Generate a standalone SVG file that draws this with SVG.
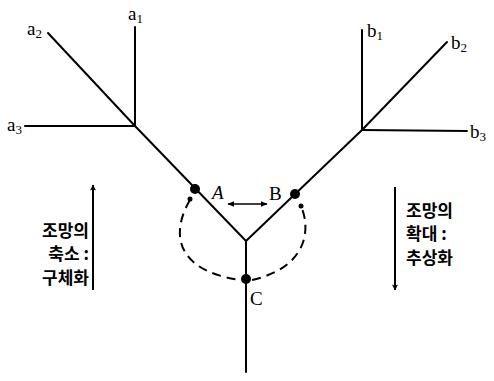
<svg xmlns="http://www.w3.org/2000/svg" width="494" height="381" viewBox="0 0 494 381">
<defs>
<marker id="ah" viewBox="0 0 10 10" refX="9" refY="5" markerWidth="7" markerHeight="7" markerUnits="userSpaceOnUse" orient="auto-start-reverse">
<path d="M0,1 L10,5 L0,9 z" fill="#000"/>
</marker>
<marker id="ahl" viewBox="0 0 10 10" refX="9" refY="5" markerWidth="14" markerHeight="6" markerUnits="userSpaceOnUse" orient="auto-start-reverse">
<path d="M0,0 L10,5 L0,10 L2,5 z" fill="#000"/>
</marker>
</defs>
<style>
.ln{stroke:#000;stroke-width:2;fill:none;stroke-linecap:round}
.ds{stroke:#000;stroke-width:2;fill:none;stroke-dasharray:9 6}
.lb{font-family:"Liberation Serif",serif;font-size:19px;fill:#000}
.sb{font-family:"Liberation Serif",serif;font-size:13px;fill:#000}
.kr{font-family:"Noto Sans CJK KR","Noto Sans",sans-serif;font-size:17px;font-weight:600;fill:#000}
</style>
<rect width="494" height="381" fill="#fff"/>
<g id="connectors">
<line class="ln" x1="135" y1="27" x2="135" y2="126"/>
<line class="ln" x1="48" y1="33" x2="135" y2="126"/>
<line class="ln" x1="25" y1="126" x2="135" y2="126"/>
<line class="ln" x1="135" y1="126" x2="246" y2="241"/>
<line class="ln" x1="362" y1="30" x2="362" y2="130"/>
<line class="ln" x1="447" y1="42" x2="362" y2="130"/>
<line class="ln" x1="467" y1="131" x2="362" y2="130"/>
<line class="ln" x1="362" y1="130" x2="246" y2="241"/>
<line class="ln" x1="246" y1="241" x2="246" y2="372"/>
<path class="ds" d="M190,200 C172,230 172,270 240,280"/>
<path class="ds" d="M252,280 C305,268 312,232 301,206"/>
<line x1="228" y1="204" x2="267" y2="204" stroke="#000" stroke-width="1.6" marker-start="url(#ah)" marker-end="url(#ah)"/>
<line x1="93" y1="290" x2="93" y2="185" stroke="#000" stroke-width="2" marker-end="url(#ahl)"/>
<line x1="395" y1="187" x2="395" y2="290" stroke="#000" stroke-width="2" marker-end="url(#ahl)"/>
</g>
<g id="node-a1"><text class="lb" x="128" y="20">a<tspan class="sb" dy="3">1</tspan></text></g>
<g id="node-a2"><text class="lb" x="27" y="35">a<tspan class="sb" dy="3">2</tspan></text></g>
<g id="node-a3"><text class="lb" x="7" y="131">a<tspan class="sb" dy="3">3</tspan></text></g>
<g id="node-b1"><text class="lb" x="367" y="37">b<tspan class="sb" dy="3">1</tspan></text></g>
<g id="node-b2"><text class="lb" x="451" y="49">b<tspan class="sb" dy="3">2</tspan></text></g>
<g id="node-b3"><text class="lb" x="470" y="138">b<tspan class="sb" dy="3">3</tspan></text></g>
<g id="node-A"><circle cx="195" cy="189" r="5"/><circle cx="190" cy="199" r="2.5"/><text class="lb" x="212" y="199" font-style="italic">A</text></g>
<g id="node-B"><circle cx="295" cy="194" r="5"/><circle cx="301" cy="206" r="2.5"/><text class="lb" x="269" y="200">B</text></g>
<g id="node-C"><circle cx="246" cy="279" r="5"/><text class="lb" x="250" y="305">C</text></g>
<g id="label-left">
<text class="kr" x="89" y="237" text-anchor="end">조망의</text>
<text class="kr" x="89" y="260" text-anchor="end">축소 :</text>
<text class="kr" x="89" y="284" text-anchor="end">구체화</text>
</g>
<g id="label-right">
<text class="kr" x="406" y="217">조망의</text>
<text class="kr" x="406" y="240">확대 :</text>
<text class="kr" x="406" y="264">추상화</text>
</g>
</svg>
